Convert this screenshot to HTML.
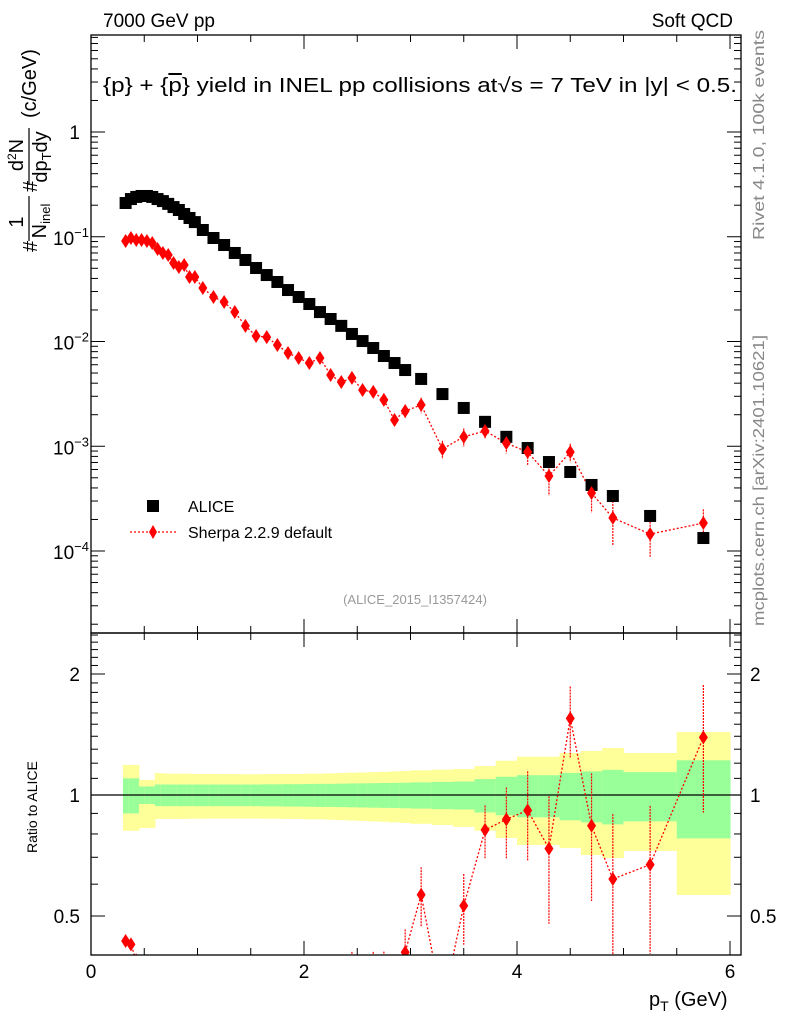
<!DOCTYPE html>
<html><head><meta charset="utf-8"><style>
body{margin:0;background:#fff;}
svg{display:block;font-family:"Liberation Sans",Arial,sans-serif;}
</style></head><body>
<svg id="chart" width="786" height="1024" viewBox="0 0 786 1024">
<defs>
<clipPath id="clipMain"><rect x="91" y="35" width="650" height="598"/></clipPath>
<clipPath id="clipRatio"><rect x="91" y="633" width="650" height="322"/></clipPath>
</defs>
<g id="ratioBand" clip-path="url(#clipRatio)"></g>
<g id="marks"></g>
<rect x="91" y="35" width="650" height="598" fill="none" stroke="#000" stroke-width="1.3"/>
<rect x="91" y="633" width="650" height="322" fill="none" stroke="#000" stroke-width="1.3"/>
<g id="ticks" stroke="#000" stroke-width="1"></g>
<text x="103" y="27" font-size="19">7000 GeV pp</text>
<text x="733" y="27" font-size="19" text-anchor="end">Soft QCD</text>
<text x="103" y="92" font-size="20" textLength="634" lengthAdjust="spacingAndGlyphs">{p} + {<tspan text-decoration="overline">p</tspan>} yield in INEL pp collisions at√s =  7 TeV in |y| &lt; 0.5.</text>
<text transform="translate(764,240) rotate(-90)" font-size="16" fill="#888" textLength="210" lengthAdjust="spacingAndGlyphs">Rivet 4.1.0,  100k events</text>
<text transform="translate(764,626) rotate(-90)" font-size="16" fill="#888" textLength="291" lengthAdjust="spacingAndGlyphs">mcplots.cern.ch [arXiv:2401.10621]</text>
<g font-size="20">
<text transform="translate(37,252) rotate(-90)">#</text>
<text transform="translate(23,222) rotate(-90)" text-anchor="middle">1</text>
<line x1="29" y1="241" x2="29" y2="196" stroke="#000" stroke-width="1.2"/>
<text transform="translate(46,221) rotate(-90)" text-anchor="middle">N<tspan font-size="13" dy="4">inel</tspan></text>
<text transform="translate(37,192) rotate(-90)">#</text>
<text transform="translate(23,155) rotate(-90)" text-anchor="middle">d<tspan font-size="12" dy="-7">2</tspan><tspan dy="7">N</tspan></text>
<line x1="29" y1="185" x2="29" y2="128" stroke="#000" stroke-width="1.2"/>
<text transform="translate(47,157) rotate(-90)" text-anchor="middle">dp<tspan font-size="13" dy="4">T</tspan><tspan dy="-4">dy</tspan></text>
<text transform="translate(36,118) rotate(-90)">(c/GeV)</text>
</g>
<text transform="translate(37,853) rotate(-90)" font-size="14">Ratio to ALICE</text>
<text x="649" y="1006" font-size="20">p<tspan font-size="14" dy="5">T</tspan><tspan dy="-5"> (GeV)</tspan></text>
<g>
<rect x="147" y="500" width="12" height="12" fill="#000"/>
<text x="188" y="512" font-size="16">ALICE</text>
<line x1="130" y1="532" x2="177" y2="532" stroke="#f00" stroke-width="1.3" stroke-dasharray="2,2"/>
<polygon points="153,525 157,532 153,539 149,532" fill="#f00"/>
<text x="188" y="538" font-size="16">Sherpa 2.2.9 default</text>
</g>
<text x="415" y="604" font-size="13" fill="#999" text-anchor="middle">(ALICE_2015_I1357424)</text>
</svg>
<script>
const binEdges=[0.3,0.35,0.4,0.45,0.5,0.55,0.6,0.65,0.7,0.75,0.8,0.85,0.9,0.95,1.0,1.1,1.2,1.3,1.4,1.5,1.6,1.7,1.8,1.9,2.0,2.1,2.2,2.3,2.4,2.5,2.6,2.7,2.8,2.9,3.0,3.2,3.4,3.6,3.8,4.0,4.2,4.4,4.6,4.8,5.0,5.5,6.0];
const aliceVals=[0.210,0.229,0.240,0.245,0.245,0.240,0.229,0.219,0.206,0.192,0.180,0.165,0.151,0.138,0.116,0.0973,0.0834,0.0700,0.0600,0.0503,0.0431,0.0370,0.0310,0.0266,0.0228,0.0191,0.0164,0.0141,0.0118,0.0101,0.00867,0.00727,0.00623,0.00534,0.00439,0.00315,0.00232,0.00171,0.00123,0.000962,0.000707,0.000568,0.000427,0.000335,0.000216,0.000133];
const sherpaVals=[0.0910,0.0973,0.0931,0.0931,0.0910,0.0871,0.0764,0.0700,0.0670,0.0562,0.0514,0.0537,0.0413,0.0413,0.0324,0.0266,0.0238,0.0191,0.0141,0.0113,0.0110,0.00927,0.00777,0.00695,0.00623,0.00695,0.00479,0.00410,0.00449,0.00344,0.00330,0.00277,0.00178,0.00217,0.00248,0.000941,0.00123,0.00140,0.00107,0.000881,0.000520,0.000881,0.000358,0.000207,0.000145,0.000185];
const sherpaRelErr=[0.03,0.03,0.03,0.03,0.03,0.03,0.03,0.03,0.03,0.04,0.04,0.04,0.04,0.04,0.04,0.04,0.05,0.05,0.05,0.05,0.06,0.06,0.06,0.07,0.07,0.07,0.07,0.07,0.07,0.07,0.07,0.07,0.12,0.14,0.17,0.2,0.2,0.15,0.2,0.25,0.35,0.2,0.35,0.45,0.4,0.35];
const greenErr=[0.10,0.10,0.10,0.05,0.05,0.05,0.062,0.062,0.062,0.062,0.062,0.062,0.062,0.062,0.062,0.062,0.062,0.062,0.062,0.062,0.063,0.063,0.064,0.064,0.065,0.066,0.066,0.067,0.068,0.069,0.07,0.071,0.072,0.073,0.075,0.078,0.08,0.095,0.11,0.12,0.12,0.135,0.145,0.155,0.14,0.22];
const yellowUp=[0.188,0.188,0.188,0.09,0.09,0.09,0.134,0.132,0.13,0.13,0.13,0.13,0.13,0.128,0.128,0.128,0.127,0.127,0.126,0.126,0.127,0.127,0.128,0.128,0.13,0.13,0.132,0.134,0.136,0.138,0.14,0.142,0.145,0.148,0.152,0.156,0.16,0.18,0.217,0.245,0.245,0.272,0.287,0.309,0.272,0.434];
const yellowDn=[0.185,0.185,0.185,0.172,0.172,0.172,0.128,0.128,0.128,0.128,0.128,0.128,0.127,0.127,0.127,0.126,0.126,0.126,0.126,0.126,0.127,0.127,0.128,0.128,0.13,0.13,0.132,0.134,0.136,0.138,0.14,0.142,0.145,0.148,0.152,0.158,0.167,0.185,0.218,0.249,0.249,0.262,0.291,0.303,0.274,0.436];
const xTickLabels=["0","2","4","6"];
const ratioTickVals=[2,1,0.5];

const NS="http://www.w3.org/2000/svg";
const X0=91,PX=106.5;
function sx(v){return X0+v*PX;}
function sy(v){return 132-Math.log10(v)*104.75;}
function ry(r){return 795-Math.log10(r)*402;}
function mk(tag,attrs,parent){const e=document.createElementNS(NS,tag);for(const k in attrs)e.setAttribute(k,attrs[k]);parent.appendChild(e);return e;}
const svg=document.getElementById('chart');
const band=document.getElementById('ratioBand');
const marks=document.getElementById('marks');
const ticks=document.getElementById('ticks');
const centers=aliceVals.map((_,i)=>(binEdges[i]+binEdges[i+1])/2);

for(let i=0;i<aliceVals.length;i++){
  const xa=sx(binEdges[i]),xb=sx(binEdges[i+1]);
  const yb=mk('rect',{x:xa,y:ry(1+yellowUp[i]),width:xb-xa+0.5,height:ry(1-yellowDn[i])-ry(1+yellowUp[i]),fill:'#ffff99'},band);
  
  
  const gb=mk('rect',{x:xa,y:ry(1+greenErr[i]),width:xb-xa+0.5,height:ry(1-greenErr[i])-ry(1+greenErr[i]),fill:'#99ff99'},band);
  
  
}
const one=mk('line',{x1:91,x2:741,y1:ry(1),y2:ry(1),stroke:'#000','stroke-width':1.3},band);



const gm=mk('g',{'clip-path':'url(#clipMain)'},marks);
let pts=centers.map((c,i)=>sx(c)+','+sy(sherpaVals[i])).join(' ');
const sl=mk('polyline',{points:pts,fill:'none',stroke:'#f00','stroke-width':1.3,'stroke-dasharray':'2,2'},gm);


for(let i=0;i<centers.length;i++){
  const x=sx(centers[i]);
  const v=sherpaVals[i],e=sherpaRelErr[i];
  const eb=mk('line',{x1:x,x2:x,y1:sy(v*(1+e)),y2:sy(Math.max(v*(1-e),1e-6)),stroke:'#f00','stroke-width':1.2,'stroke-dasharray':'2,1'},gm);
  
  
  const s=mk('rect',{x:x-6,y:sy(aliceVals[i])-6,width:12,height:12,fill:'#000'},gm);
  
  
  const y=sy(v);
  const d=mk('polygon',{points:`${x},${y-7} ${x+4.5},${y} ${x},${y+7} ${x-4.5},${y}`,fill:'#f00'},gm);
  
  
}
const gr=mk('g',{'clip-path':'url(#clipRatio)'},marks);
const ratios=sherpaVals.map((v,i)=>v/aliceVals[i]);
pts=centers.map((c,i)=>sx(c)+','+ry(ratios[i])).join(' ');
const rl=mk('polyline',{points:pts,fill:'none',stroke:'#f00','stroke-width':1.3,'stroke-dasharray':'2,2'},gr);


for(let i=0;i<centers.length;i++){
  const x=sx(centers[i]),r=ratios[i],e=sherpaRelErr[i];
  const eb=mk('line',{x1:x,x2:x,y1:ry(r*(1+e)),y2:ry(Math.max(r*(1-e),0.01)),stroke:'#f00','stroke-width':1.2,'stroke-dasharray':'2,1'},gr);
  
  
  const y=ry(r);
  const d=mk('polygon',{points:`${x},${y-7} ${x+4.5},${y} ${x},${y+7} ${x-4.5},${y}`,fill:'#f00'},gr);
  
  
}

function tl(x1,y1,x2,y2){mk('line',{x1,y1,x2,y2},ticks);}
for(let k=0;k<=12;k++){
  const v=k*0.5,x=sx(v);if(x>741)break;
  const L=(k%4===0)?14:7;
  tl(x,633,x,633-L);tl(x,35,x,35+L);tl(x,955,x,955-L);tl(x,633,x,633+L);
}
for(let dec=-5;dec<=0;dec++){
  for(let m=1;m<10;m++){
    const v=m*Math.pow(10,dec),y=sy(v);
    if(y<35||y>633)continue;
    const L=m===1?14:7;
    tl(91,y,91+L,y);tl(741,y,741-L,y);
  }
}
const ly=[[1,"1"],[0.1,"−1"],[0.01,"−2"],[0.001,"−3"],[0.0001,"−4"]];
ly.forEach(([v,s])=>{
  const y=sy(v);
  if(v===1){const t=mk('text',{x:80,y:y+7,'font-size':19,'text-anchor':'end'},svg);t.textContent="1";
    
    return;}
  const t=mk('text',{x:53,y:y+8,'font-size':19},svg);
  
  
  t.innerHTML='10<tspan font-size="13" dy="-8">'+s+'</tspan>';
});
for(let r=0.4;r<=2.5;r=Math.round((r+0.1)*10)/10){
  const y=ry(r);if(y<633||y>955)continue;
  const L=(r===1||r===2||r===0.5)?14:7;
  tl(91,y,91+L,y);tl(741,y,741-L,y);
}
ratioTickVals.forEach(v=>{
  const y=ry(v);
  const a=mk('text',{x:80,y:y+7,'font-size':19,'text-anchor':'end'},svg);a.textContent=String(v);
  
  
  const b=mk('text',{x:750,y:y+7,'font-size':19},svg);b.textContent=String(v);
  
  
});
xTickLabels.forEach(s=>{
  const t=mk('text',{x:sx(parseFloat(s)),y:978,'font-size':19,'text-anchor':'middle'},svg);t.textContent=s;
  
  
});
</script>
</body></html>
